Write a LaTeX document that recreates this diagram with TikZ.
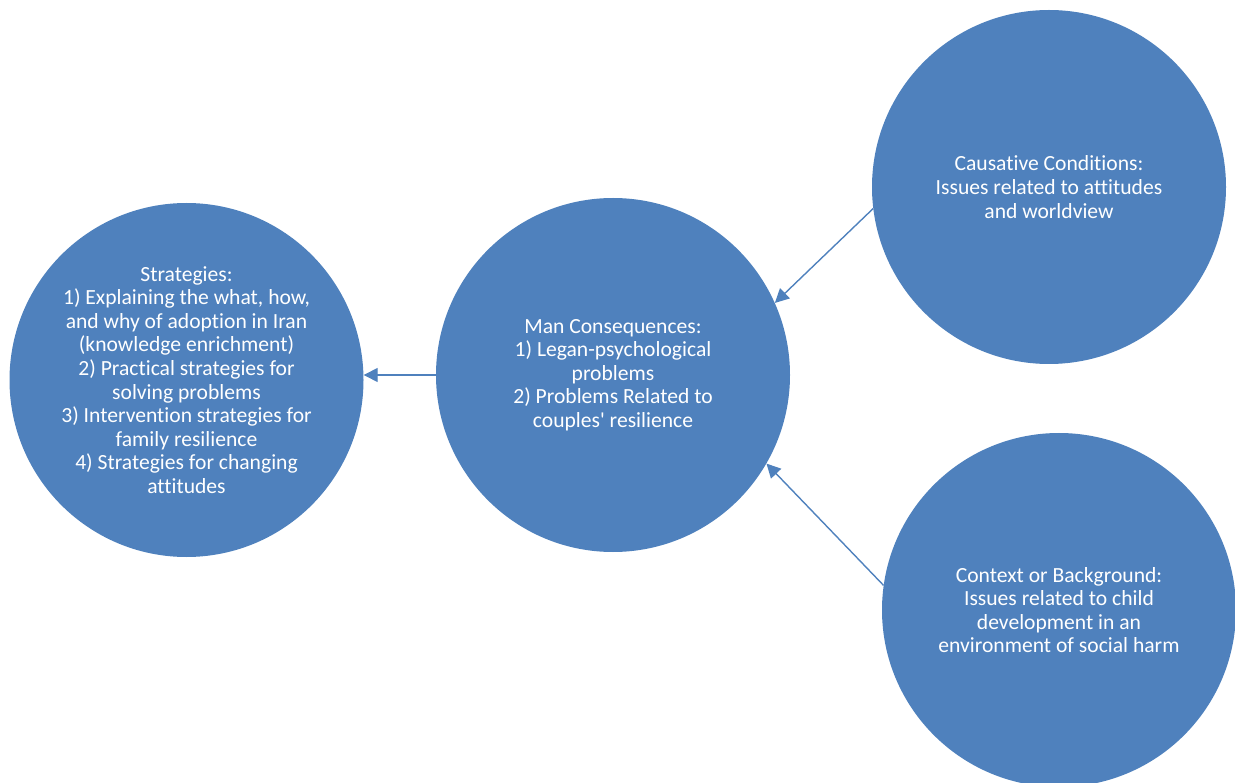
\documentclass[tikz,border=0pt]{standalone}
\usepackage{fontspec}
\setmainfont{Carlito}[Ligatures={NoCommon}]
\usetikzlibrary{arrows.meta}
\definecolor{discblue}{HTML}{4F81BD}
\tikzset{
  disc/.style={circle, fill=discblue, draw=none, minimum size=354pt, inner sep=0pt,
    text=white, align=center, font=\fontsize{21.6pt}{23.6pt}\selectfont},
  link/.style={draw=discblue, line width=1.4pt, -{Triangle[length=14pt,width=14pt]}}
}
\begin{document}
\begin{tikzpicture}[x=1pt, y=-1pt]
  \useasboundingbox (0,0) rectangle (1235,783);
  \begin{scope}
    \clip (0,0) rectangle (1235,783);
    \node[disc] (strat) at (186.5,380) {Strategies:\\1) Explaining the what, how,\\and why of adoption in Iran\\(knowledge enrichment)\\2) Practical strategies for\\solving problems\\3) Intervention strategies for\\family resilience\\4) Strategies for changing\\attitudes};
    \node[disc] (cons) at (613,375) {Man Consequences:\\1) Legan-psychological\\problems\\2) Problems Related to\\couples\textquotesingle{} resilience};
    \node[disc] (cause) at (1049,187) {Causative Conditions:\\Issues related to attitudes\\and worldview};
    \node[disc] (ctx) at (1059,610) {Context or Background:\\Issues related to child\\development in an\\environment of social harm};
  \end{scope}
  % horizontal link, level with the point where it leaves the middle disc
  \draw[link] (cons.180.65) -- (cons.180.65 -| strat.east);
  \draw[link] (cause.187.8) -- (cons.24.7);
  \draw[link] (ctx.172.2) -- (cons.-30.8);
\end{tikzpicture}
\end{document}
